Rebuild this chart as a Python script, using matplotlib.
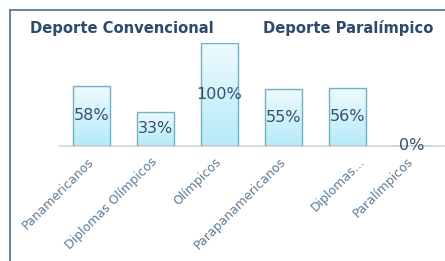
import matplotlib.pyplot as plt
import numpy as np
from matplotlib.lines import Line2D
from matplotlib.colors import LinearSegmentedColormap
from matplotlib.transforms import ScaledTranslation

categories = ['Panamericanos', 'Diplomas Olímpicos', 'Olímpicos',
              'Parapanamericanos', 'Diplomas...', 'Paralímpicos']
values = [58, 33, 100, 55, 56, 0]
groups = ['Deporte Convencional', 'Deporte Paralímpico']

W, H = 445, 261
fig = plt.figure(figsize=(W / 100, H / 100), dpi=100)

# axes placed in pixel terms
left, right, base, top = 59.5, 443.5, 145.7, 43
ax = fig.add_axes([left / W, (H - base) / H, (right - left) / W, (base - top) / H])
x = np.arange(len(categories))
bars = ax.bar(x, values, width=0.58, facecolor='none', edgecolor='#6fb0c2', linewidth=1, zorder=3)

# vertical gradient fill for each bar
grad = np.linspace(0, 1, 100).reshape(-1, 1)
cmap = LinearSegmentedColormap.from_list('g', ['#b5eaf8', '#eefafe'])
for b in bars:
    if b.get_height() <= 0:
        continue
    im = ax.imshow(grad, cmap=cmap, origin='lower', aspect='auto', zorder=2,
                   extent=[b.get_x(), b.get_x() + b.get_width(), 0, b.get_height()])
    im.set_clip_path(b)

for xi, v in zip(x, values):
    ax.text(xi, v / 2, f'{v}%', ha='center', va='center', fontsize=11.5, color='#34506e', zorder=4)

ax.set_xlim(-0.5, len(categories) - 0.5)
ax.set_ylim(0, 100)
for s in ['top', 'right', 'left']:
    ax.spines[s].set_visible(False)
ax.spines['bottom'].set_color('#d4d4d4')
ax.spines['bottom'].set_linewidth(1.2)
ax.set_yticks([])
ax.set_xticks(x)
ax.set_xticklabels(categories, rotation=45, ha='right', va='center', rotation_mode='anchor',
                   fontsize=9, color='#5a7d99')
ax.tick_params(axis='x', length=0, pad=10)
# the truncated label sits further right in the original
lbl = ax.get_xticklabels()[4]
lbl.set_transform(lbl.get_transform() + ScaledTranslation(16 / 100, 0, fig.dpi_scale_trans))

# frame lines (top and left)
fig.add_artist(Line2D([10 / W, 1], [1 - 10 / H, 1 - 10 / H], color='#5b7a93', lw=1.3))
fig.add_artist(Line2D([10 / W, 10 / W], [0, 1 - 10 / H], color='#5b7a93', lw=1.3))

fig.text(30 / W, 1 - 28 / H, groups[0], fontsize=10.6, fontweight='bold', color='#2d4b6e', va='center')
fig.text(263 / W, 1 - 28 / H, groups[1], fontsize=10.6, fontweight='bold', color='#2d4b6e', va='center')

fig.savefig('out.png', dpi=100)
